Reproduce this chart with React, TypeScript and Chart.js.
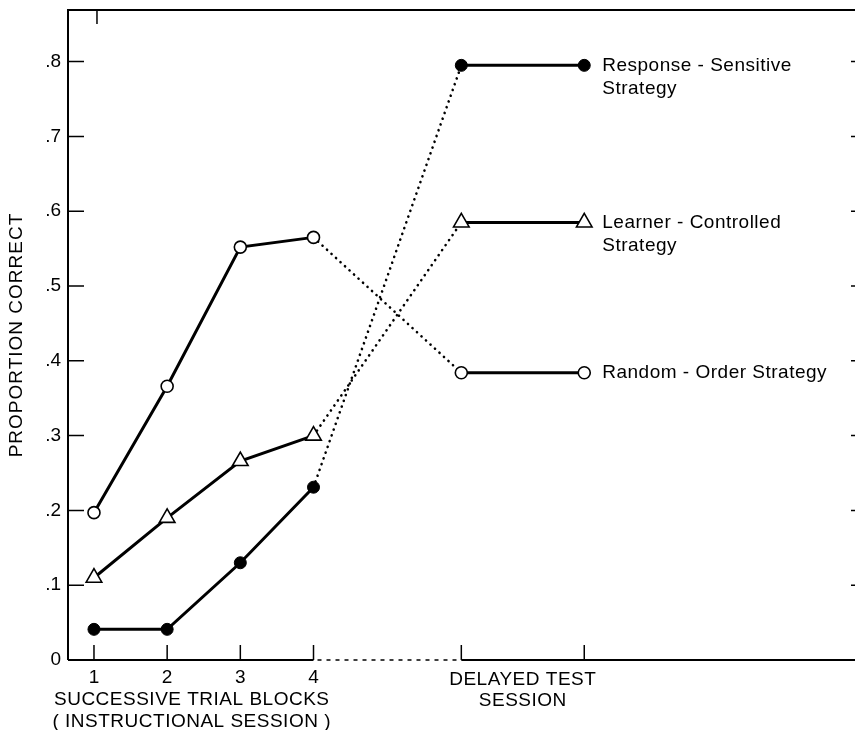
import React, { useEffect, useRef } from "react";
import { Chart, registerables } from "chart.js";

Chart.register(...registerables);

// x positions: trial blocks 1-4, then the two delayed-test points
const xPositions = [1, 2, 3, 4, 6.02, 7.7];
const trialTickLabels = ["1", "2", "3", "4"];
const yTickValues = [0, 0.1, 0.2, 0.3, 0.4, 0.5, 0.6, 0.7, 0.8];
const yTickLabels = ["0", ".1", ".2", ".3", ".4", ".5", ".6", ".7", ".8"];

const responseSensitive = [0.041, 0.041, 0.13, 0.231, 0.795, 0.795];
const learnerControlled = [0.11, 0.19, 0.266, 0.3, 0.585, 0.585];
const randomOrder = [0.197, 0.366, 0.552, 0.565, 0.384, 0.384];

const seriesLabels = [
  ["Response - Sensitive", "Strategy"],
  ["Learner - Controlled", "Strategy"],
  ["Random - Order Strategy"],
];

const FONT = '"Liberation Sans", Arial, sans-serif';

function toPoints(vals: number[]) {
  return vals.map((v, i) => ({ x: xPositions[i], y: v }));
}

export default function App() {
  const ref = useRef<HTMLCanvasElement | null>(null);

  useEffect(() => {
    const canvas = ref.current!;
    const segment = {
      borderDash: (c: any) => (c.p0DataIndex === 3 ? [0.1, 6] : undefined),
      borderWidth: (c: any) => (c.p0DataIndex === 3 ? 2.6 : 3),
    };
    const frame = {
      id: "frame",
      beforeDatasetsDraw(chart: any) {
        const { ctx, chartArea, scales } = chart;
        const xs = scales.x;
        const ys = scales.y;
        const L = chartArea.left;
        const T = chartArea.top;
        const R = chartArea.right;
        const B = chartArea.bottom;
        ctx.save();
        ctx.strokeStyle = "#000";
        ctx.lineWidth = 2;
        ctx.lineCap = "butt";
        ctx.beginPath();
        ctx.moveTo(L, B);
        ctx.lineTo(L, T);
        ctx.lineTo(R, T);
        ctx.stroke();
        const x4 = xs.getPixelForValue(xPositions[3]);
        const x5 = xs.getPixelForValue(xPositions[4]);
        ctx.beginPath();
        ctx.moveTo(L, B);
        ctx.lineTo(x4, B);
        ctx.moveTo(x5, B);
        ctx.lineTo(R, B);
        ctx.stroke();
        ctx.setLineDash([4, 5]);
        ctx.lineWidth = 1.6;
        ctx.beginPath();
        ctx.moveTo(x4 + 4, B);
        ctx.lineTo(x5, B);
        ctx.stroke();
        ctx.setLineDash([]);
        ctx.lineWidth = 1.5;
        yTickValues.forEach((v) => {
          if (v === 0) return;
          const y = ys.getPixelForValue(v);
          ctx.beginPath();
          ctx.moveTo(L, y);
          ctx.lineTo(L + 16, y);
          ctx.moveTo(R - 4, y);
          ctx.lineTo(R, y);
          ctx.stroke();
        });
        xPositions.forEach((xv) => {
          const x = xs.getPixelForValue(xv);
          ctx.beginPath();
          ctx.moveTo(x, B);
          ctx.lineTo(x, B - 15);
          ctx.stroke();
        });
        const xt = xs.getPixelForValue(xPositions[0]) + 3;
        ctx.beginPath();
        ctx.moveTo(xt, T);
        ctx.lineTo(xt, T + 14);
        ctx.stroke();
        ctx.restore();
      },
      afterDraw(chart: any) {
        const { ctx, chartArea, scales } = chart;
        const xs = scales.x;
        const ys = scales.y;
        ctx.save();
        ctx.fillStyle = "#000";
        ctx.font = `19px ${FONT}`;
        ctx.textBaseline = "middle";
        ctx.textAlign = "right";
        yTickValues.forEach((v, i) => {
          ctx.fillText(yTickLabels[i], chartArea.left - 7, ys.getPixelForValue(v));
        });
        ctx.textAlign = "center";
        trialTickLabels.forEach((t, i) => {
          ctx.fillText(t, xs.getPixelForValue(xPositions[i]), 678);
        });
        (ctx as any).letterSpacing = "0.5px";
        const cTrial = (xs.getPixelForValue(1) + xs.getPixelForValue(4)) / 2;
        ctx.fillText("SUCCESSIVE TRIAL BLOCKS", cTrial - 12, 700);
        ctx.fillText("( INSTRUCTIONAL SESSION )", cTrial - 12, 722);
        const cDel = (xs.getPixelForValue(xPositions[4]) + xs.getPixelForValue(xPositions[5])) / 2;
        ctx.fillText("DELAYED TEST", cDel, 680);
        ctx.fillText("SESSION", cDel, 701);
        ctx.save();
        ctx.translate(17, 335);
        ctx.rotate(-Math.PI / 2);
        (ctx as any).letterSpacing = "1px";
        ctx.fillText("PROPORTION CORRECT", 0, 0);
        ctx.restore();
        (ctx as any).letterSpacing = "0.5px";
        ctx.textAlign = "left";
        const lx = xs.getPixelForValue(xPositions[5]) + 18;
        const series = [responseSensitive, learnerControlled, randomOrder];
        series.forEach((s, i) => {
          const y = ys.getPixelForValue(s[5]);
          seriesLabels[i].forEach((line, j) => {
            ctx.fillText(line, lx, y + j * 23);
          });
        });
        ctx.restore();
      },
    };

    const chart = new Chart(canvas, {
      type: "line",
      data: {
        datasets: [
          {
            label: "Response-Sensitive Strategy",
            data: toPoints(responseSensitive),
            borderColor: "#000",
            backgroundColor: "#000",
            pointBackgroundColor: "#000",
            pointBorderColor: "#000",
            pointStyle: "circle",
            pointRadius: 6,
            pointBorderWidth: 1,
            borderWidth: 3,
            borderCapStyle: "round",
            segment,
          } as any,
          {
            label: "Learner-Controlled Strategy",
            data: toPoints(learnerControlled),
            borderColor: "#000",
            backgroundColor: "#fff",
            pointBackgroundColor: "#fff",
            pointBorderColor: "#000",
            pointStyle: "triangle",
            pointRadius: 9,
            pointBorderWidth: 1.6,
            borderWidth: 3,
            borderCapStyle: "round",
            segment,
          } as any,
          {
            label: "Random-Order Strategy",
            data: toPoints(randomOrder),
            borderColor: "#000",
            backgroundColor: "#fff",
            pointBackgroundColor: "#fff",
            pointBorderColor: "#000",
            pointStyle: "circle",
            pointRadius: 6,
            pointBorderWidth: 1.6,
            borderWidth: 3,
            borderCapStyle: "round",
            segment,
          } as any,
        ],
      },
      options: {
        responsive: false,
        animation: false,
        layout: { autoPadding: false, padding: { left: 68, top: 10, right: 0, bottom: 70 } },
        plugins: { legend: { display: false }, tooltip: { enabled: false } },
        scales: {
          x: { type: "linear", min: 0.645, max: 11.4, display: false },
          y: { type: "linear", min: 0, max: 0.869, display: false },
        },
      },
      plugins: [frame],
    });
    return () => chart.destroy();
  }, []);

  return (
    <div style={{ position: "absolute", left: 0, top: 0, width: 855, height: 730, background: "#fff" }}>
      <canvas ref={ref} width={855} height={730} />
    </div>
  );
}
